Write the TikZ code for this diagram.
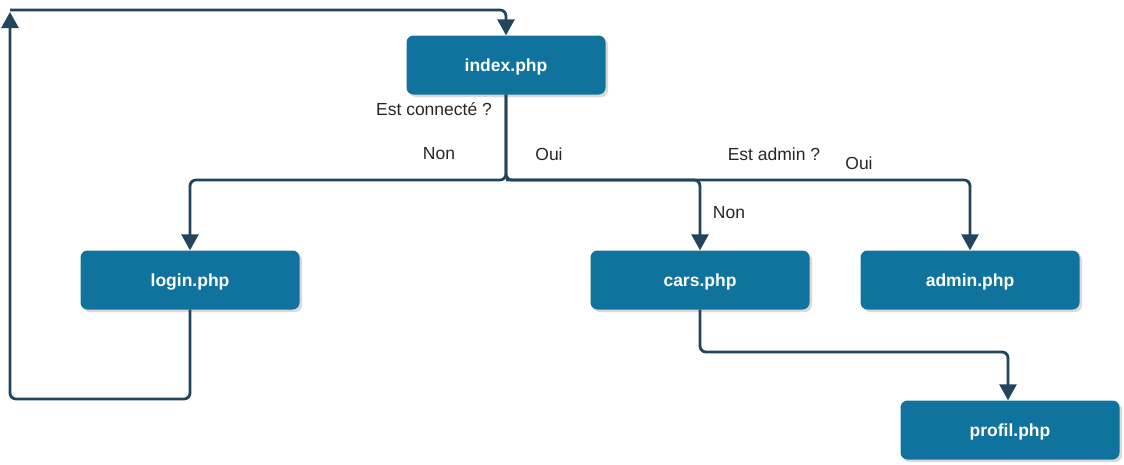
\documentclass[tikz,border=0pt]{standalone}
\usepackage{fontspec}
\setmainfont{Liberation Sans}
\usetikzlibrary{positioning,arrows.meta,shadows}
\definecolor{boxblue}{HTML}{10739E}
\definecolor{linedark}{HTML}{23445D}

\begin{document}
\begin{tikzpicture}[x=1pt, y=-1pt, font=\fontsize{17.5pt}{20pt}\selectfont, >={Triangle[length=16pt,width=17pt]}]
\tikzset{box/.style={fill=boxblue, text=white, font=\fontsize{17.5pt}{20pt}\selectfont\bfseries, rounded corners=7pt, minimum width=219pt, minimum height=59pt, inner sep=0pt, text depth=0pt, drop shadow={opacity=0.3, shadow xshift=2.5pt, shadow yshift=-2.5pt}},link/.style={draw=linedark, line width=2.8pt, rounded corners=6pt},lbl/.style={text=black!85, inner sep=0pt}}
\useasboundingbox (0,0) rectangle (1124,464);
\node[box, minimum width=199pt] (index) at (506,65) {index.php};
\node[box] (login) at (190,280) {login.php};
\node[box] (cars) at (700,280) {cars.php};
\node[box] (admin) at (970,280) {admin.php};
\node[box] (profil) at (1010,430) {profil.php};
\coordinate (split) at (506,180);
\coordinate (corner) at (10,10);
% connexion
\draw[link, ->] (index.south) -- (split) -| (login.north);
\draw[link, ->] (index.south) -- (split) -| (cars.north);
\draw[link, ->] (split) -| (admin.north);
\draw[link, ->] (cars.south) |- (1008,352) -- (profil.north -| 1008,0);
\draw[link, ->] (login.south) |- (10,399) -- (10,12);
\draw[link, ->] (corner) -| (index.north);
% labels
\node[lbl] (qconn) at (434,109) {Est connect\'e ?};
\node[lbl] (nonlogin) at (439,154) {Non};
\node[lbl] (ouiconn) at (549,154) {Oui};
\node[lbl] (qadmin) at (774,154) {Est admin ?};
\node[lbl] (ouiadmin) at (859,163) {Oui};
\node[lbl] (nonadmin) at (729,213) {Non};
\end{tikzpicture}
\end{document}
